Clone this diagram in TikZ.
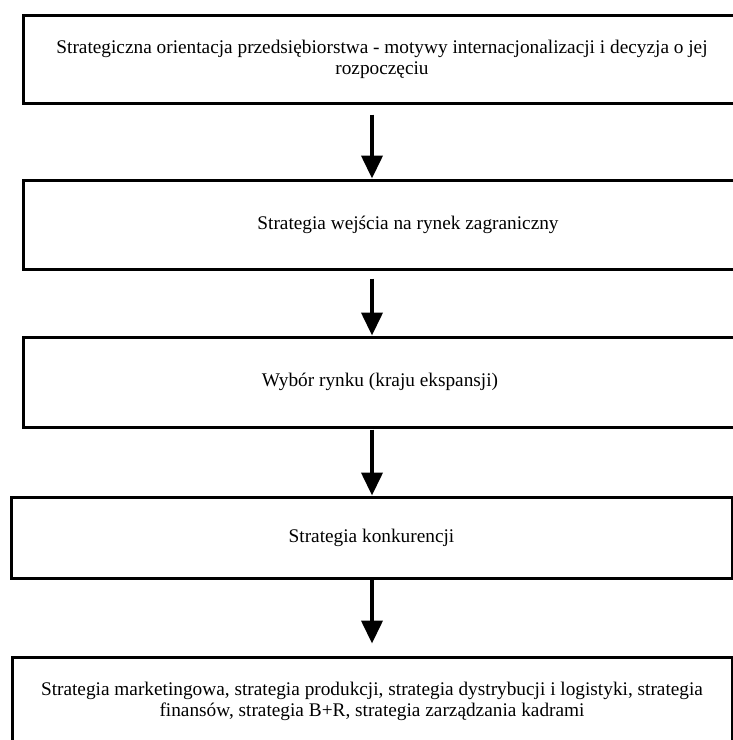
\documentclass[tikz,border=0pt]{standalone}
\usepackage{fontspec}
\setmainfont{Liberation Serif}
\usetikzlibrary{arrows.meta}
\begin{document}
\begin{tikzpicture}[x=1pt,y=-1pt,
  box/.style={draw=black, line width=3pt, fill=white, align=center, inner sep=0pt,
    font=\fontsize{19.3}{21}\selectfont},
  arr/.style={line width=4pt, -{Triangle[width=21pt,length=23pt]}}]
\useasboundingbox (0,0) rectangle (733,740);
\clip (0,0) rectangle (733,740);
\node[box, minimum width=717.5pt, minimum height=88pt] (b1) at (382,59)
  {Strategiczna orientacja przedsiębiorstwa - motywy internacjonalizacji i decyzja o jej\\rozpoczęciu};
\node[box, minimum width=770pt, minimum height=89pt] (b2) at (408,224.5)
  {Strategia wejścia na rynek zagraniczny};
\node[box, minimum width=714pt, minimum height=90pt] (b3) at (380,382)
  {Wybór rynku (kraju ekspansji)};
\node[box, minimum width=721pt, minimum height=81pt] (b4) at (371.5,537.5)
  {Strategia konkurencji};
\node[box, minimum width=720pt, minimum height=88pt] (b5) at (372,701)
  {Strategia marketingowa, strategia produkcji, strategia dystrybucji i logistyki, strategia\\finansów, strategia B+R, strategia zarządzania kadrami};
\coordinate (ax) at (372,0);
\draw[arr] ([yshift=-10pt]ax |- b1.south) -- (ax |- b2.north);
\draw[arr] ([yshift=-8pt]ax |- b2.south) -- (ax |- b3.north);
\draw[arr] ([yshift=-1pt]ax |- b3.south) -- (ax |- b4.north);
\draw[arr] (ax |- b4.south) -- ([yshift=12pt]ax |- b5.north);
\end{tikzpicture}
\end{document}
